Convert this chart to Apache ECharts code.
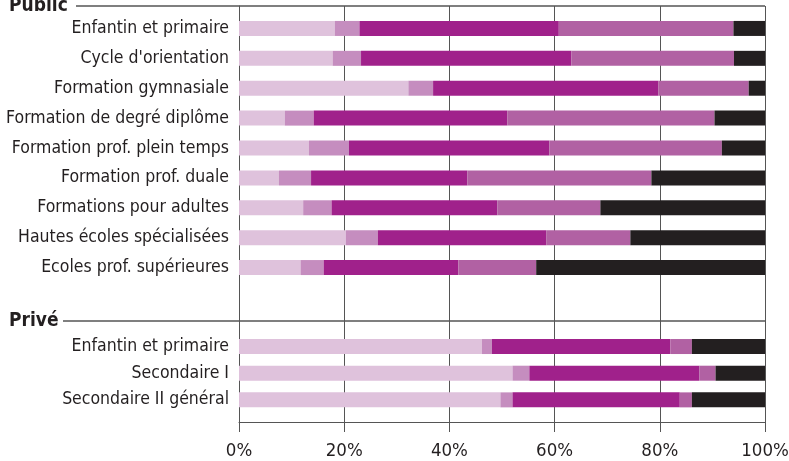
<!DOCTYPE html>
<html>
<head>
<meta charset="utf-8">
<script src="https://cdn.jsdelivr.net/npm/echarts@6/dist/echarts.min.js"></script>
<style>
html,body{margin:0;padding:0;background:#fff;}
#chart{width:789px;height:461px;}
</style>
</head>
<body>
<div id="chart"></div>
<script>
const FONT = "'Liberation Sans Narrow','DejaVu Sans Condensed','Roboto Condensed',sans-serif";

const groupLabels = ['Public', 'Privé'];
const publicCategories = [
  'Enfantin et primaire',
  "Cycle d'orientation",
  'Formation gymnasiale',
  'Formation de degré diplôme',
  'Formation prof. plein temps',
  'Formation prof. duale',
  'Formations pour adultes',
  'Hautes écoles spécialisées',
  'Ecoles prof. supérieures'
];
const priveCategories = [
  'Enfantin et primaire',
  'Secondaire I',
  'Secondaire II général'
];

const publicSeg1 = [18.2, 17.8, 32.2, 8.7, 13.3, 7.6, 12.2, 20.3, 11.7];
const publicSeg2 = [4.7, 5.4, 4.7, 5.5, 7.6, 6.1, 5.4, 6.1, 4.4];
const publicSeg3 = [37.9, 40.0, 42.8, 36.8, 38.1, 29.7, 31.5, 32.0, 25.6];
const publicSeg4 = [33.2, 30.9, 17.2, 39.4, 32.8, 35.0, 19.6, 16.0, 14.8];
const publicSeg5 = [6.0, 5.9, 3.1, 9.6, 8.2, 21.6, 31.3, 25.6, 43.5];

const priveSeg1 = [46.2, 52.0, 49.7];
const priveSeg2 = [1.9, 3.2, 2.3];
const priveSeg3 = [33.9, 32.3, 31.8];
const priveSeg4 = [4.1, 3.1, 2.3];
const priveSeg5 = [13.9, 9.4, 13.9];

const xTicks = [0, 20, 40, 60, 80, 100];
const segColors = ['#dfc2dc', '#c58dbf', '#a0218b', '#b161a3', '#231f20'];

const chart = echarts.init(document.getElementById('chart'), null, {renderer: 'canvas'});

const L = 239, W = 526;
const textColor = '#231f20';
const lineColor = '#555';
const CAT_SIZE = 17.5;

function mk(segs, gi, stack) {
  return segs.map((d, i) => ({
    type: 'bar',
    name: 'Part ' + (i + 1),
    xAxisIndex: gi,
    yAxisIndex: gi,
    stack: stack,
    data: d,
    barWidth: 15,
    itemStyle: {color: segColors[i]},
    emphasis: {disabled: true},
    silent: true,
    z: 3
  }));
}

const gridBase = {containLabel: false, outerBoundsMode: 'none'};

const option = {
  animation: false,
  backgroundColor: '#fff',
  textStyle: {fontFamily: FONT},
  grid: [
    Object.assign({left: L, width: W, top: 6, height: 416}, gridBase),
    Object.assign({left: L, width: W, top: 13.5, height: 269}, gridBase),
    Object.assign({left: L, width: W, top: 333.2, height: 80}, gridBase)
  ],
  xAxis: [
    {
      gridIndex: 0, type: 'value', min: 0, max: 100, interval: 20,
      axisLine: {show: true, lineStyle: {color: lineColor, width: 1}},
      axisTick: {show: true, length: 10, lineStyle: {color: lineColor, width: 1}},
      axisLabel: {
        fontFamily: FONT, fontSize: 18.5, color: textColor, margin: 20,
        formatter: v => xTicks.indexOf(v) >= 0 ? v + '%' : ''
      },
      splitLine: {show: true, lineStyle: {color: lineColor, width: 1}}
    },
    {gridIndex: 1, type: 'value', min: 0, max: 100, show: false},
    {gridIndex: 2, type: 'value', min: 0, max: 100, show: false}
  ],
  yAxis: [
    {
      gridIndex: 0, type: 'value', min: 0, max: 1,
      axisLine: {show: true, lineStyle: {color: lineColor, width: 1}},
      axisTick: {show: false}, axisLabel: {show: false}, splitLine: {show: false}
    },
    {
      gridIndex: 1, type: 'category', data: publicCategories, inverse: true,
      axisLine: {show: false}, axisTick: {show: false}, splitLine: {show: false},
      axisLabel: {fontFamily: FONT, fontSize: CAT_SIZE, color: textColor, margin: 10, interval: 0, hideOverlap: false}
    },
    {
      gridIndex: 2, type: 'category', data: priveCategories, inverse: true,
      axisLine: {show: false}, axisTick: {show: false}, splitLine: {show: false},
      axisLabel: {fontFamily: FONT, fontSize: CAT_SIZE, color: textColor, margin: 10, interval: 0, hideOverlap: false}
    }
  ],
  graphic: [
    {type: 'line', shape: {x1: 76, y1: 6, x2: 765, y2: 6}, style: {stroke: lineColor, lineWidth: 1.5}, z: 10},
    {type: 'line', shape: {x1: 63, y1: 321, x2: 765, y2: 321}, style: {stroke: lineColor, lineWidth: 1.5}, z: 10},
    {type: 'text', left: 9, top: -3, style: {text: groupLabels[0], font: 'bold 19px ' + FONT, fill: textColor}, z: 10},
    {type: 'text', left: 9, top: 312, style: {text: groupLabels[1], font: 'bold 19px ' + FONT, fill: textColor}, z: 10}
  ],
  series: [].concat(
    mk([publicSeg1, publicSeg2, publicSeg3, publicSeg4, publicSeg5], 1, 'pub'),
    mk([priveSeg1, priveSeg2, priveSeg3, priveSeg4, priveSeg5], 2, 'priv')
  )
};
chart.setOption(option);
</script>
</body>
</html>
